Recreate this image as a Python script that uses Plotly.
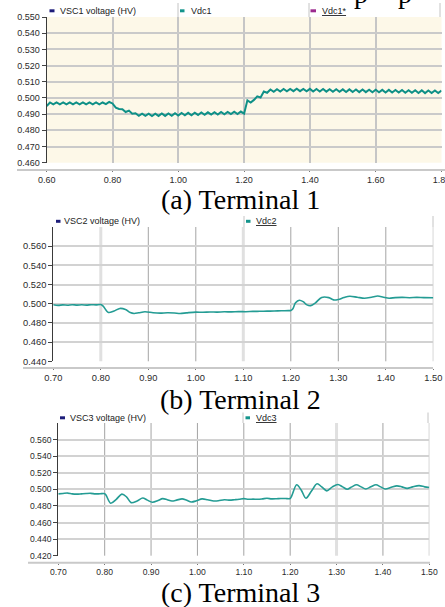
import numpy as np
import plotly.graph_objects as go

# ---------------- data ----------------
# Terminal 1 (Vdc1), sampled every 0.01 s from 0.60 to 1.80
t1 = np.round(np.arange(0.60, 1.8001, 0.01), 2)
v1 = [0.4950, 0.4972, 0.4960, 0.4973, 0.4961, 0.4972, 0.4960, 0.4973, 0.4960, 0.4972,
      0.4961, 0.4973, 0.4960, 0.4972, 0.4961, 0.4973, 0.4961, 0.4972, 0.4962, 0.4975,
      0.4966,
      0.4940, 0.4932, 0.4930, 0.4913, 0.4922, 0.4902, 0.4905, 0.4890, 0.4903, 0.4889,
      0.4903, 0.4888, 0.4903, 0.4889, 0.4904, 0.4889, 0.4904, 0.4890, 0.4906, 0.4891,
      0.4907, 0.4893, 0.4908, 0.4893, 0.4909, 0.4895, 0.4910, 0.4896, 0.4911, 0.4897,
      0.4912, 0.4898, 0.4913, 0.4899, 0.4914, 0.4900, 0.4915, 0.4901, 0.4916, 0.4903,
      0.4985, 0.4972, 0.4988, 0.5010, 0.5003, 0.5040, 0.5032, 0.5052, 0.5038, 0.5054,
      0.5040, 0.5055, 0.5041, 0.5056, 0.5042, 0.5057, 0.5042, 0.5056, 0.5041, 0.5056,
      0.5040, 0.5055, 0.5040, 0.5055, 0.5039, 0.5054, 0.5038, 0.5054, 0.5038, 0.5053,
      0.5037, 0.5053, 0.5037, 0.5052, 0.5036, 0.5052, 0.5036, 0.5051, 0.5035, 0.5051,
      0.5035, 0.5050, 0.5034, 0.5050, 0.5034, 0.5049, 0.5033, 0.5049, 0.5032, 0.5048,
      0.5032, 0.5048, 0.5031, 0.5047, 0.5030, 0.5046, 0.5030, 0.5046, 0.5030, 0.5045]

# Terminal 2 (Vdc2)
t2 = [0.700, 0.710, 0.720, 0.730, 0.740, 0.750, 0.760, 0.770, 0.780, 0.790, 0.800,
      0.805, 0.816, 0.828, 0.840, 0.852, 0.862, 0.870, 0.880, 0.893, 0.910, 0.925,
      0.940, 0.955, 0.967, 0.980, 1.000, 1.015, 1.030, 1.045, 1.060, 1.075, 1.090,
      1.105, 1.120, 1.135, 1.150, 1.165, 1.180, 1.195, 1.200, 1.204, 1.210, 1.218,
      1.226, 1.234, 1.242, 1.252, 1.265, 1.280, 1.290, 1.300, 1.312, 1.324, 1.340,
      1.355, 1.370, 1.383, 1.395, 1.407, 1.420, 1.435, 1.450, 1.465, 1.480, 1.500]
v2 = [0.4990, 0.4983, 0.4988, 0.4985, 0.4990, 0.4986, 0.4989, 0.4986, 0.4990, 0.4988, 0.4992,
      0.4975, 0.4909, 0.4925, 0.4951, 0.4940, 0.4908, 0.4899, 0.4906, 0.4916, 0.4906, 0.4902,
      0.4906, 0.4904, 0.4899, 0.4905, 0.4913, 0.4911, 0.4914, 0.4913, 0.4916, 0.4915, 0.4918,
      0.4917, 0.4920, 0.4921, 0.4923, 0.4924, 0.4927, 0.4928, 0.4930, 0.4945, 0.5010, 0.5037,
      0.5022, 0.4988, 0.4980, 0.5010, 0.5066, 0.5064, 0.5040, 0.5045, 0.5065, 0.5078, 0.5068,
      0.5058, 0.5068, 0.5080, 0.5068, 0.5058, 0.5064, 0.5066, 0.5063, 0.5066, 0.5064, 0.5063]

# Terminal 3 (Vdc3)
t3 = [0.700, 0.710, 0.720, 0.730, 0.740, 0.750, 0.760, 0.770, 0.780, 0.790, 0.800,
      0.803, 0.813, 0.825, 0.837, 0.847, 0.857, 0.870, 0.882, 0.892, 0.903, 0.915,
      0.925, 0.935, 0.945, 0.955, 0.967, 0.977, 0.987, 0.998, 1.010, 1.022, 1.035,
      1.045, 1.058, 1.070, 1.080, 1.090, 1.100, 1.110, 1.120, 1.130, 1.140, 1.150,
      1.160, 1.170, 1.180, 1.190, 1.200, 1.204, 1.214, 1.224, 1.234, 1.246, 1.258,
      1.268, 1.279, 1.291, 1.303, 1.313, 1.323, 1.333, 1.343, 1.353, 1.363, 1.374,
      1.385, 1.395, 1.405, 1.418, 1.430, 1.441, 1.452, 1.464, 1.478, 1.490, 1.500]
v3 = [0.4945, 0.4950, 0.4955, 0.4945, 0.4942, 0.4946, 0.4950, 0.4952, 0.4945, 0.4947, 0.4948,
      0.4930, 0.4833, 0.4880, 0.4942, 0.4910, 0.4840, 0.4860, 0.4895, 0.4870, 0.4845, 0.4865,
      0.4888, 0.4875, 0.4860, 0.4870, 0.4885, 0.4868, 0.4848, 0.4862, 0.4885, 0.4875, 0.4860,
      0.4862, 0.4875, 0.4870, 0.4875, 0.4880, 0.4888, 0.4880, 0.4882, 0.4880, 0.4885, 0.4892,
      0.4885, 0.4886, 0.4890, 0.4889, 0.4890, 0.4930, 0.5055, 0.4990, 0.4893, 0.4980, 0.5067,
      0.5030, 0.4982, 0.5030, 0.5058, 0.5030, 0.5002, 0.5030, 0.5055, 0.5030, 0.5005, 0.5030,
      0.5055, 0.5030, 0.5005, 0.5025, 0.5042, 0.5030, 0.5012, 0.5030, 0.5045, 0.5030, 0.5022]

x_ranges = [[0.60, 1.80], [0.70, 1.50], [0.70, 1.50]]
y_ranges = [[0.46, 0.55], [0.44, 0.58], [0.42, 0.58]]
x_ticks = [[0.60, 0.80, 1.00, 1.20, 1.40, 1.60, 1.80],
           [0.70, 0.80, 0.90, 1.00, 1.10, 1.20, 1.30, 1.40, 1.50],
           [0.70, 0.80, 0.90, 1.00, 1.10, 1.20, 1.30, 1.40, 1.50]]
y_ticks = [[0.46, 0.47, 0.48, 0.49, 0.50, 0.51, 0.52, 0.53, 0.54, 0.55],
           [0.44, 0.46, 0.48, 0.50, 0.52, 0.54, 0.56],
           [0.42, 0.44, 0.46, 0.48, 0.50, 0.52, 0.54, 0.56]]
light_x_grid = [[], [0.80, 1.10], [1.30]]
legend_left = ["VSC1 voltage (HV)", "VSC2 voltage (HV)", "VSC3 voltage (HV)"]
legend_mid = ["Vdc1", "Vdc2", "Vdc3"]
legend_right = "Vdc1*"
captions = ["(a) Terminal 1", "(b) Terminal 2", "(c) Terminal 3"]

# ---------------- layout geometry (pixels) ----------------
W, H = 445, 607
def px(x):
    return x / W
def py(y):
    return 1 - y / H

panels = [
    dict(x0=46.7, x1=441.5, ytop=17.0, ybot=162.7, xline=170.0, line_from=17, line_to=445,
         tfs=9, bg="#fdf8e8", lw=2.0, color="#0f9087"),
    dict(x0=53.3, x1=433.3, ytop=227.0, ybot=361.3, xline=368.0, line_from=23, line_to=433,
         tfs=9.3, bg="#ffffff", lw=1.6, color="#249c94"),
    dict(x0=58.3, x1=429.3, ytop=423.0, ybot=555.7, xline=562.7, line_from=28, line_to=430,
         tfs=8.6, bg="#ffffff", lw=1.6, color="#249c94"),
]

fig = go.Figure()
series = [(t1, v1), (t2, v2), (t3, v3)]
for i, (tt, vv) in enumerate(series):
    p = panels[i]
    sfx = "" if i == 0 else str(i + 1)
    line = dict(color=p["color"], width=p["lw"])
    if i:
        line.update(shape="spline", smoothing=0.9)
    fig.add_trace(go.Scatter(
        x=tt, y=vv, mode="lines", xaxis="x" + sfx, yaxis="y" + sfx,
        line=line, showlegend=False, hoverinfo="skip"))

shapes = []
annotations = []
tick_font_family = "Liberation Sans, Arial, sans-serif"
for i, p in enumerate(panels):
    sfx = "" if i == 0 else str(i + 1)
    grid_h = "#cacaca" if i == 0 else "#d2d2d2"
    fig.layout["xaxis" + sfx] = dict(
        domain=[px(p["x0"]), px(p["x1"])], range=x_ranges[i],
        anchor="free", position=py(p["xline"]), automargin=False,
        tickvals=x_ticks[i], tickformat=".2f", ticklabeloverflow="allow",
        ticks="outside", ticklen=1, tickcolor="#777", tickwidth=1,
        showline=False, showgrid=(i == 0), gridcolor="#c6c6c6", gridwidth=1.5,
        zeroline=False, fixedrange=True,
        tickfont=dict(family=tick_font_family, size=p["tfs"], color="#2a2a2a"))
    fig.layout["yaxis" + sfx] = dict(
        domain=[py(p["ybot"]), py(p["ytop"])], range=y_ranges[i],
        anchor="x" + sfx, automargin=False, tickvals=y_ticks[i], tickformat=".3f",
        ticks="outside", ticklen=4, tickcolor="#444", tickwidth=1,
        showline=True, linecolor="#3a3a3a", linewidth=1.2,
        showgrid=True, gridcolor=grid_h, gridwidth=1.5 if i == 0 else 2,
        zeroline=False, fixedrange=True,
        tickfont=dict(family=tick_font_family, size=p["tfs"], color="#2a2a2a"))
    # panel background
    shapes.append(dict(type="rect", xref="x" + sfx + " domain", yref="y" + sfx + " domain",
                       x0=0, x1=1, y0=0, y1=1, fillcolor=p["bg"], line_width=0,
                       layer="below"))
    # vertical grid lines of panels 2 and 3 (dark thin, some light wide)
    if i:
        for xv in x_ticks[i][1:]:
            light = xv in light_x_grid[i]
            shapes.append(dict(type="line", xref="x" + sfx, yref="y" + sfx + " domain",
                               x0=xv, x1=xv, y0=0, y1=1, layer="below",
                               line=dict(color="#e0e0e0" if light else "#a4a4a4",
                                         width=3 if light else 1)))
    # separate grey axis bar under each plot
    shapes.append(dict(type="line", xref="paper", yref="paper",
                       x0=px(p["line_from"]), x1=px(p["line_to"]),
                       y0=py(p["xline"]), y1=py(p["xline"]),
                       line=dict(color="#c9c9c9", width=2)))
    # caption
    annotations.append(dict(text=captions[i], xref="paper", yref="paper",
                            x=px(240), y=py([200, 399, 592][i]),
                            xanchor="center", yanchor="middle", showarrow=False,
                            font=dict(family="Liberation Serif, Times New Roman, serif",
                                      size=28, color="#000")))

# ---------------- legend strips ----------------
leg_font = dict(family=tick_font_family, size=9, color="#222")
strip = [
    dict(y=10.5, top=3, bot=17, sq=[(49.5, 54.5), (180, 184.5), (310.5, 316)],
         tx=[58, 188.5, 319.5], seps=[178, 309, 440]),
    dict(y=221.0, top=216, bot=227, sq=[(56, 60.5), (246, 250.5)],
         tx=[62, 253.5], seps=[244, 433]),
    dict(y=417.5, top=412.5, bot=423, sq=[(60, 65), (245.5, 250)],
         tx=[67.5, 253.5], seps=[243, 428]),
]
sq_colors = ["#1d1d7a", "#14948c", "#9c2a8e"]
for i, s in enumerate(strip):
    labels = [legend_left[i], "<u>" + legend_mid[i] + "</u>" if i else legend_mid[i]]
    if i == 0:
        labels.append("<u>" + legend_right + "</u>")
    for j, lab in enumerate(labels):
        a, b = s["sq"][j]
        shapes.append(dict(type="rect", xref="paper", yref="paper",
                           x0=px(a), x1=px(b), y0=py(s["y"] + 1.8), y1=py(s["y"] - 1.2),
                           fillcolor=sq_colors[j], line_width=0))
        annotations.append(dict(text=lab, xref="paper", yref="paper",
                                x=px(s["tx"][j]), y=py(s["y"]), xanchor="left",
                                yanchor="middle", showarrow=False, font=leg_font))
    for sx in s["seps"]:
        shapes.append(dict(type="line", xref="paper", yref="paper",
                           x0=px(sx), x1=px(sx), y0=py(s["bot"]), y1=py(s["top"]),
                           line=dict(color="#c4c4c4", width=1)))

# cropped text from the page above (only descenders of two letters are visible)
for xp in (361, 405):
    annotations.append(dict(text="p", xref="paper", yref="paper", x=px(xp), y=py(-6),
                            xanchor="center", yanchor="middle", showarrow=False,
                            font=dict(family="Liberation Serif, Times New Roman, serif",
                                      size=28, color="#000")))

fig.update_layout(width=W, height=H, margin=dict(l=0, r=0, t=0, b=0, autoexpand=False),
                  paper_bgcolor="#ffffff", plot_bgcolor="rgba(0,0,0,0)",
                  shapes=shapes, annotations=annotations, showlegend=False)

fig.write_html("out.html", config={"displayModeBar": False},
               post_script="document.body.style.margin='0';document.body.style.overflow='hidden';")
